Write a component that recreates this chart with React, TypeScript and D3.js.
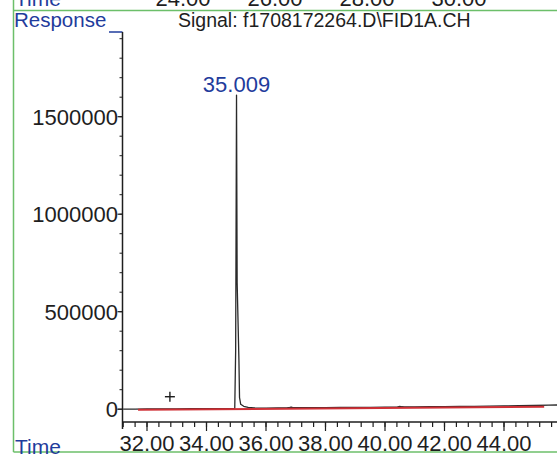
import React from "react";
import * as d3 from "d3";

// ---- data ----
const signalTimes = [31.2, 31.6, 32.0, 32.5, 33.0, 33.5, 34.0, 34.5, 34.8, 34.95, 34.98, 35.009, 35.03, 35.06, 35.09, 35.11, 35.15, 35.25, 35.4, 35.6, 36.0, 36.4, 36.7, 36.8, 36.85, 36.9, 37.0, 37.5, 38.0, 38.5, 39.0, 39.5, 40.0, 40.4, 40.5, 40.55, 40.65, 41.0, 41.5, 42.0, 42.5, 43.0, 43.5, 44.0, 44.5, 45.0, 45.5, 45.8];
const signalValues = [500, 800, 1200, 1500, 2000, 2200, 2600, 3000, 3200, 3300, 300000, 1611000, 650000, 450000, 250000, 60000, 25000, 15000, 9000, 7000, 6000, 6200, 6500, 9000, 10500, 8500, 7500, 7800, 8200, 8800, 9300, 9800, 10400, 11000, 14500, 12500, 11800, 12200, 12800, 13500, 14200, 15000, 16000, 17000, 18000, 19000, 20500, 21500];
const baselineTimes = [31.7, 45.35];
const baselineValues = [-3000, 13000];
const peakLabel = { time: 35.009, value: 1611000, text: "35.009" };
const plusMarker = { time: 32.77, value: 64000 };
const yTickValues = [0, 500000, 1000000, 1500000];
const yTickLabels = ["0", "500000", "1000000", "1500000"];
const xTickValues = [32, 34, 36, 38, 40, 42, 44];
const xTickLabels = ["32.00", "34.00", "36.00", "38.00", "40.00", "42.00", "44.00"];
const topTickLabels = ["24.00", "26.00", "28.00", "30.00"];
const topTickCenters = [183, 275, 367, 459];
const titleText = "Signal: f1708172264.D\\FID1A.CH";

const W = 557;
const H = 455;
const BLUE = "#1f3c9c";
const GREEN = "#6cbf6a";
const INK = "#1e1e1e";
const FONT = "Liberation Sans, Arial, sans-serif";
const NUM = 22;

export default function App() {
  const x = d3.scaleLinear().domain([32, 44]).range([147, 504]);
  const y = d3.scaleLinear().domain([0, 1500000]).range([409.2, 116.7]);
  const xMin = 31.2;
  const xMax = x.invert(W + 2);
  const yTop = 32;
  const yAxisX = 122.5;
  const xAxisY = 422;

  const tracePath =
    d3
      .line<number>()
      .x((_, i) => x(signalTimes[i]))
      .y((d) => y(d))(signalValues) || "";
  const basePath =
    d3
      .line<number>()
      .x((_, i) => x(baselineTimes[i]))
      .y((d) => y(d))(baselineValues) || "";

  const xMinor: number[] = [];
  for (let i = 0; ; i++) {
    const t = xMin + i * 0.4;
    if (t > xMax) break;
    xMinor.push(t);
  }
  const yMinor: number[] = [];
  for (let v = 100000; y(v) >= yTop + 2; v += 100000) yMinor.push(v);

  return (
    <svg
      width={W}
      height={H}
      style={{ position: "absolute", left: 0, top: 0, background: "#fff" }}
      fontFamily={FONT}
    >
      <rect x={0} y={0} width={W} height={H} fill="#fff" />
      {/* cut-off panel above */}
      <text x={15} y={5.5} fontSize={21} fill={BLUE}>Time</text>
      {topTickLabels.map((t, i) => (
        <text key={t} x={topTickCenters[i]} y={5.5} fontSize={NUM} fill={INK} textAnchor="middle">
          {t}
        </text>
      ))}
      {/* frame */}
      <line x1={13.5} y1={0} x2={13.5} y2={452} stroke={GREEN} strokeWidth={1.5} />
      <line x1={13.5} y1={10.5} x2={W} y2={10.5} stroke={GREEN} strokeWidth={1.5} />
      <line x1={13.5} y1={452} x2={W} y2={452} stroke={GREEN} strokeWidth={1.5} />

      {/* header */}
      <text x={14} y={27} fontSize={20.5} fill={BLUE}>Response</text>
      <text x={178} y={27} fontSize={19.5} fill={INK}>{titleText}</text>

      {/* y axis */}
      <line x1={109} y1={yTop} x2={yAxisX} y2={yTop} stroke={BLUE} strokeWidth={1.5} />
      <line x1={yAxisX} y1={yTop} x2={yAxisX} y2={xAxisY + 7} stroke={INK} strokeWidth={1.5} />
      {yMinor.map((v) => (
        <line key={v} x1={yAxisX - 3} y1={y(v)} x2={yAxisX} y2={y(v)} stroke={INK} strokeWidth={1} />
      ))}
      {yTickValues.map((v, i) => (
        <g key={v}>
          <line x1={yAxisX - 5} y1={y(v)} x2={yAxisX} y2={y(v)} stroke={INK} strokeWidth={1.2} />
          <text x={118} y={y(v)} dy="0.36em" fontSize={NUM} fill={INK} textAnchor="end">
            {yTickLabels[i]}
          </text>
        </g>
      ))}

      {/* x axis */}
      <line x1={yAxisX} y1={xAxisY} x2={W} y2={xAxisY} stroke={INK} strokeWidth={1.5} />
      {xMinor.map((t) => (
        <line key={t} x1={x(t)} y1={xAxisY} x2={x(t)} y2={xAxisY + 5} stroke={INK} strokeWidth={1.2} />
      ))}
      {xTickValues.map((t, i) => (
        <g key={t}>
          <line x1={x(t)} y1={xAxisY} x2={x(t)} y2={xAxisY + 9} stroke={INK} strokeWidth={1.2} />
          <text x={x(t)} y={451} fontSize={NUM} fill={INK} textAnchor="middle">
            {xTickLabels[i]}
          </text>
        </g>
      ))}
      <text x={15} y={454} fontSize={21} fill={BLUE}>Time</text>

      {/* zero line stub */}
      <line x1={yAxisX - 5} y1={y(0)} x2={x(signalTimes[0])} y2={y(0)} stroke={INK} strokeWidth={1} />

      {/* signal */}
      <path d={tracePath} fill="none" stroke="#2a2a2a" strokeWidth={1.3} strokeLinejoin="round" />
      <path d={basePath} fill="none" stroke="#cf2f35" strokeWidth={2} />

      {/* plus marker */}
      <g stroke={INK} strokeWidth={1.4}>
        <line x1={x(plusMarker.time) - 5} y1={y(plusMarker.value)} x2={x(plusMarker.time) + 5} y2={y(plusMarker.value)} />
        <line x1={x(plusMarker.time)} y1={y(plusMarker.value) - 5} x2={x(plusMarker.time)} y2={y(plusMarker.value) + 5} />
      </g>

      {/* peak label */}
      <text x={x(peakLabel.time)} y={y(peakLabel.value) - 3} fontSize={NUM} fill={BLUE} textAnchor="middle">
        {peakLabel.text}
      </text>
    </svg>
  );
}
